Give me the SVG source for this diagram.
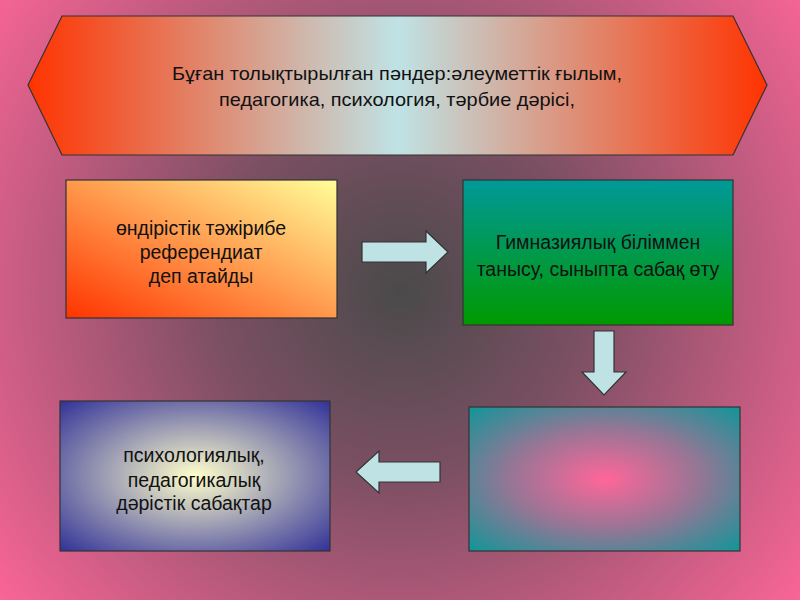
<svg xmlns="http://www.w3.org/2000/svg" width="800" height="600" viewBox="0 0 800 600">
<defs>
<radialGradient id="bg" cx="400" cy="290" r="520" gradientUnits="userSpaceOnUse">
<stop offset="0" stop-color="#4a4a4a"/>
<stop offset="0.35" stop-color="#7a4f62"/>
<stop offset="1" stop-color="#ff6699"/>
</radialGradient>
<linearGradient id="hexg" x1="0" y1="0" x2="1" y2="0">
<stop offset="0" stop-color="#ff3300"/>
<stop offset="0.5" stop-color="#bfe3e5"/>
<stop offset="1" stop-color="#ff3300"/>
</linearGradient>
<linearGradient id="g1" x1="0" y1="1" x2="1" y2="0">
<stop offset="0" stop-color="#ff3300"/>
<stop offset="1" stop-color="#ffff99"/>
</linearGradient>
<linearGradient id="g2" x1="0" y1="0" x2="0" y2="1">
<stop offset="0" stop-color="#009999"/>
<stop offset="1" stop-color="#009900"/>
</linearGradient>
<radialGradient id="g3" cx="0.5" cy="0.5" r="0.7">
<stop offset="0" stop-color="#ffffcc"/>
<stop offset="1" stop-color="#333399"/>
</radialGradient>
<radialGradient id="g4" cx="0.5" cy="0.5" r="0.75">
<stop offset="0" stop-color="#ff6699"/>
<stop offset="0.45" stop-color="#9a7595"/>
<stop offset="1" stop-color="#009999"/>
</radialGradient>
<style>
.box{stroke:#333;stroke-width:1.2}
.arrow{fill:#bfe3e5;stroke:#333;stroke-width:1.2;stroke-linejoin:miter}
text{font-family:"Liberation Sans",Arial,sans-serif;fill:#111;text-anchor:middle}
.t{font-size:19.5px}
.h{font-size:19px}
</style>
</defs>
<rect width="800" height="600" fill="url(#bg)"/>
<g id="top">
<polygon class="box" points="28,85 62,16 733,16 767,85 733,155 62,155" fill="url(#hexg)"/>
<text class="h" x="397" y="80" textLength="450" lengthAdjust="spacingAndGlyphs">Бұған толықтырылған пәндер:әлеуметтік ғылым,</text>
<text class="h" x="397" y="106" textLength="356" lengthAdjust="spacingAndGlyphs">педагогика, психология, тәрбие дәрісі,</text>
</g>
<g id="n1">
<rect class="box" x="66" y="180" width="271" height="138" fill="url(#g1)"/>
<text class="t" x="201" y="235">өндірістік тәжірибе</text>
<text class="t" x="201" y="259">референдиат</text>
<text class="t" x="201" y="283">деп атайды</text>
</g>
<g id="n2">
<rect class="box" x="463" y="180" width="270" height="145" fill="url(#g2)"/>
<text class="t" x="598" y="249">Гимназиялық біліммен</text>
<text class="t" x="598" y="276">танысу, сыныпта сабақ өту</text>
</g>
<g id="n3">
<rect class="box" x="60" y="401" width="270" height="150" fill="url(#g3)"/>
<text class="t" x="194" y="462">психологиялық,</text>
<text class="t" x="194" y="487">педагогикалық</text>
<text class="t" x="194" y="510">дәрістік сабақтар</text>
</g>
<g id="n4">
<rect class="box" x="469" y="407" width="271" height="144" fill="url(#g4)"/>
</g>
<g id="connectors">
<polygon class="arrow" points="362,242 426,242 426,231 448,252 426,273 426,262 362,262"/>
<polygon class="arrow" points="594,331 614,331 614,372 626,372 604,395 582,372 594,372"/>
<polygon class="arrow" points="440,462 379,462 379,451 356,472 379,493 379,482 440,482"/>
</g>
</svg>
